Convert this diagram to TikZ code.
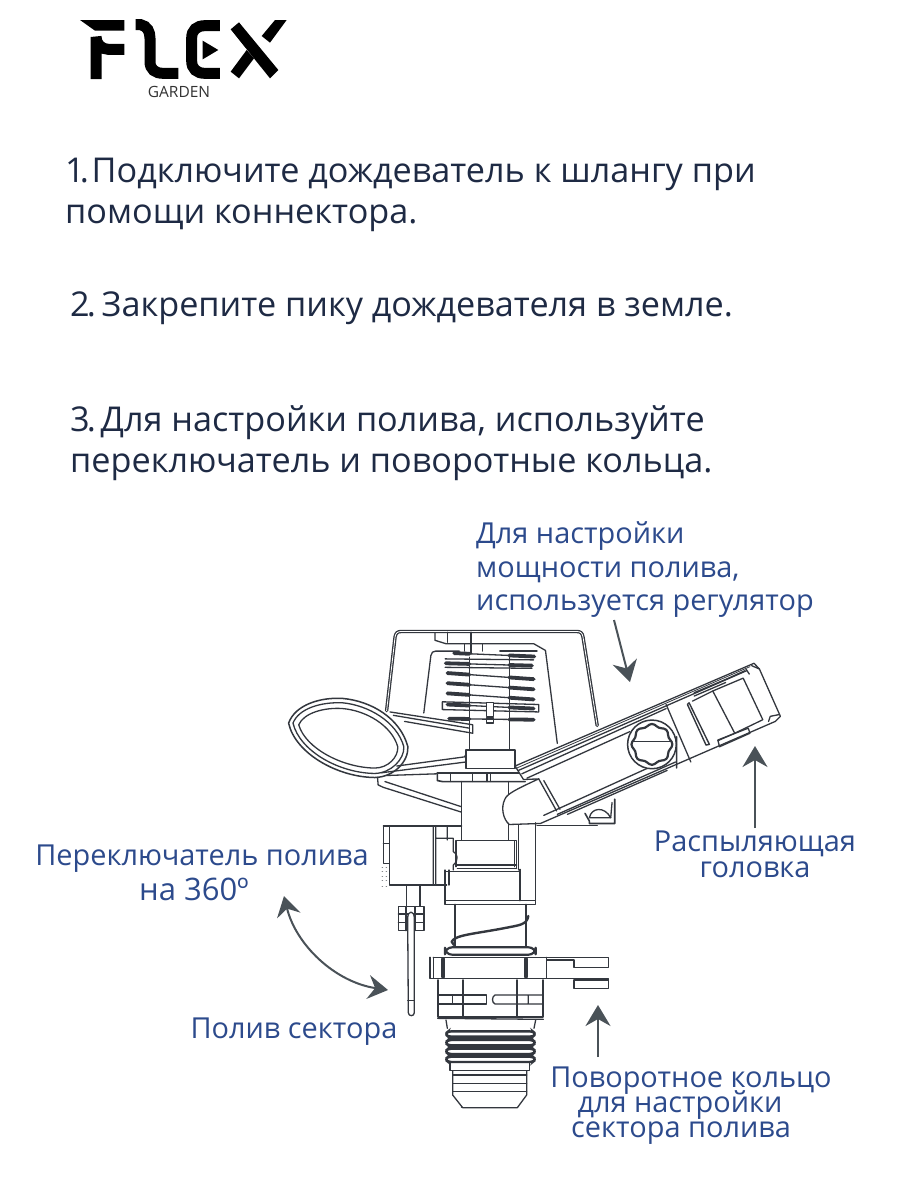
\documentclass[tikz,border=0pt]{standalone}
\usepackage{fontspec}
\setmainfont{Open Sans}
\usetikzlibrary{arrows.meta}
\definecolor{navy}{HTML}{1E2A44}
\definecolor{lblue}{HTML}{2C4A8C}
\definecolor{lc}{HTML}{33373E}
\definecolor{arrc}{HTML}{4A5258}
\tikzset{
 maintext/.style={anchor=base west,inner sep=0,text=navy,font=\fontsize{34.2}{34.2}\selectfont},
 lab/.style={anchor=base,inner sep=0,text=lblue,font=\fontsize{28.9}{28.9}\selectfont},
 ln/.style={draw=lc,line width=1.3pt,line join=round,line cap=round},
 thn/.style={draw=lc,line width=.8pt,line join=round,line cap=round},
 thk/.style={draw=lc,line width=2.2pt,line cap=round,line join=round},
 coil/.style={draw=lc,line width=3.8pt,line cap=round},
 logo/.style={draw=black,line width=11pt,line cap=butt,line join=miter},
 callout/.style={draw=arrc,line width=2pt,-{Stealth[length=21pt,width=25pt,inset=7pt]}},
 twoway/.style={draw=arrc,line width=2pt,{Stealth[length=20pt,width=24pt,inset=7pt]}-{Stealth[length=20pt,width=24pt,inset=7pt]}},
}
\begin{document}
\begin{tikzpicture}[x=1pt,y=-1pt]
\useasboundingbox[fill=white] (0,0) rectangle (900,1200);
%---- logo
\begin{scope}[xshift=70pt,yshift=-10pt,x=.33333pt,y=-.33333pt]
 \fill (30,30)--(163,30)--(163,62)--(75,62)--cycle;
 \draw[logo] (163,118)--(115,118) arc[start angle=90,end angle=180,radius=37] --(78,207);
 \draw[logo] (197,44)--(212,44) .. controls (232,48) and (240,65) .. (240,85)--(240,155) .. controls (240,178) and (255,190) .. (280,190)--(325,190);
 \draw[logo] (450,47)--(405,47) .. controls (380,47) and (365,60) .. (365,85)--(365,152) .. controls (365,177) and (380,190) .. (405,190)--(450,190);
 \fill (398,92)--(445,120)--(398,148)--cycle;
 \fill (482,58)--(507,37)--(625,180)--(600,205)--cycle;
 \fill (615,30)--(650,30)--(600,98)--(575,78)--cycle;
 \fill (530,120)--(552,145)--(507,205)--(482,185)--cycle;
\end{scope}
\node[anchor=base,inner sep=0,text=black!80,font=\fontsize{15.5}{15.5}\selectfont] (garden) at (179,97) {GARDEN};
%---- main text
\node[maintext] (t1) at (65,182) {1\kern-5pt.\kern-9pt{} Подключите дождеватель к шлангу при};
\node[maintext] (t1b) at (65,223) {помощи коннектора.};
\node[maintext] (t2) at (70,316) {2\kern-3pt.\kern-6pt{} Закрепите пику дождевателя в земле.};
\node[maintext] (t3) at (70,431) {3\kern-3pt.\kern-7pt{} Для настройки полива, используйте};
\node[maintext] (t3b) at (70,472) {переключатель и поворотные кольца.};
%---- labels
\node[lab,anchor=base west] (a1) at (476,543) {Для настройки};
\node[lab,anchor=base west] (a2) at (476,577) {мощности полива,};
\node[lab,anchor=base west] (a3) at (476,610) {используется регулятор};
\node[lab] (b1) at (755,851) {Распыляющая};
\node[lab] (b2) at (755,877) {головка};
\node[lab] (c1) at (202,865) {Переключатель полива};
\node[lab,font=\fontsize{31}{31}\selectfont] (c2) at (194,900) {на 360º};
\node[lab] (d1) at (294,1038) {Полив сектора};
\node[lab] (e1) at (691,1087) {Поворотное кольцо};
\node[lab] (e2) at (680,1112) {для настройки};
\node[lab] (e3) at (681,1137) {сектора полива};
%---- callout arrows
\coordinate (p1s) at (614,620); \coordinate (p1e) at (630,682);
\coordinate (p2s) at (755,828); \coordinate (p2e) at (755,746);
\coordinate (p3s) at (598,1057); \coordinate (p3e) at (598,1005);
\coordinate (p4s) at (284,896); \coordinate (p4e) at (388,990);
\draw[callout] (p1s)--(p1e);
\draw[callout] (p2s)--(p2e);
\draw[callout] (p3s)--(p3e);
\draw[twoway] (p4s) .. controls (296,945) and (335,982) .. (p4e);
%---- upper sprinkler
\begin{scope}[xshift=270pt,yshift=-620pt,x=.338pt,y=-.338pt]
 % cap
 \draw[ln,double=white,double distance=.8pt] (345,268)--(370,50) .. controls (372,38) and (378,34) .. (388,34)--(908,34) .. controls (918,34) and (924,38) .. (926,50)--(968,312);
 \draw[ln] (488,38)--(488,60)--(520,70)--(780,70)--(815,90)--(850,365);
 \draw[ln] (455,275)--(476,105) .. controls (478,96) and (482,92) .. (490,92)--(560,92);
 \draw[ln] (525,36)--(525,66) (595,36)--(595,100) (575,70)--(575,92) (628,70)--(628,92) (680,92)--(790,92);
 \draw[ln] (590,110)--(590,385) (708,110)--(708,385);
 % spring: thin across the centre column, heavy either side of it
 \foreach \a/\b/\c/\d in {545/98/782/108, 520/128/775/135, 525/157/780/175, 525/187/780/205, 525/217/780/235, 525/250/780/262, 530/292/780/295}{
   \pgfmathsetmacro{\yl}{\b+(\d-\b)*(590-\a)/(\c-\a)}
   \pgfmathsetmacro{\yr}{\b+(\d-\b)*(708-\a)/(\c-\a)}
   \draw[ln] (\a,\b)--(\c,\d);
   \draw[coil] (\a,\b)--(590,\yl) (708,\yr)--(\c,\d);}
 \draw[ln] (518,115)--(780,118) (518,140)--(775,143);
 \draw[ln] (510,242)--(795,250)--(795,272)--(510,265)--cycle;
 \draw[ln,fill=white] (640,245) rectangle (662,285);
 \draw[ln] (640,290) rectangle (662,305);
 % handle
 \draw[ln,line width=1.5pt,fill=white] (55,305) .. controls (75,250) and (150,228) .. (215,232) .. controls (300,240) and (385,290) .. (408,375) .. controls (410,420) and (365,465) .. (310,466) .. controls (200,465) and (75,395) .. (55,305) -- cycle;
 \draw[ln] (68,305) .. controls (85,262) and (150,242) .. (215,245) .. controls (290,252) and (375,300) .. (396,375) .. controls (398,412) and (358,453) .. (310,454) .. controls (205,453) and (88,388) .. (68,305) -- cycle;
 \draw[ln] (85,310) .. controls (100,275) and (160,258) .. (215,262) .. controls (285,268) and (360,312) .. (378,375) .. controls (380,405) and (350,438) .. (310,438) .. controls (215,437) and (105,380) .. (85,310) -- cycle;
 % arms
 \draw[ln] (355,272)--(525,298)--(600,310)--(600,335)--(398,300);
 \draw[ln] (365,282)--(590,320);
 \draw[ln] (375,432)--(575,405)--(585,392);
 \draw[ln] (330,452)--(580,420);
 \draw[ln] (345,460)--(495,455);
 \draw[ln,fill=white] (580,385) rectangle (725,440);
 % flange
 \draw[thk,line width=1.5pt] (495,452)--(755,452);
 \draw[thk,line width=1.6pt] (495,452)--(495,475)--(510,478)--(755,478);
 \draw[ln] (535,452)--(535,478) (600,452)--(600,478) (642,452)--(642,478) (653,452)--(653,478);
 % bracket
 \draw[thk,line width=1.3pt] (318,465)--(320,488)--(335,495)--(565,568);
 \draw[ln] (340,478)--(565,552);
 % stem
 \draw[ln] (567,478)--(567,640) (705,478)--(705,525);
 % knob under arm
 \draw[thk,line width=1.6pt] (932,572)--(945,595)--(945,602)--(1020,602)--(1020,530);
 \draw[ln] (945,585) .. controls (950,555) and (990,550) .. (1008,585)--cycle;
 \draw[ln] (1008,585)--(1012,540);
 \draw[ln] (790,608)--(968,608);
 % main arm
 \draw[ln,fill=white] (725,432)--(1432,128)--(1448,145)--(1510,285)--(1495,300)--(800,602)--(708,605) .. controls (690,590) and (682,555) .. (695,530) .. controls (700,515) and (730,500) .. (795,470)--(750,472)--(725,432);
 \draw[ln] (735,445)--(1410,150) (745,455)--(1172,262);
 \draw[thn] (730,438)--(1420,138);
 \draw[ln] (760,468)--(1065,330);
 \draw[ln] (810,578)--(1140,428)  (850,575)--(1200,420) (880,575)--(1175,445) (1425,135)--(1448,145);
 \draw[ln] (795,470)--(848,565);
 \draw[ln] (810,475)--(858,560);
 \draw[ln] (1172,250)--(1245,420) (1203,345)--(1203,438);
 % regulator
 \draw[ln,line width=1.5pt,fill=white] (1130,368) circle[radius=72];
 \draw[thk,fill=white] plot[smooth cycle,samples=48,domain=0:352.5] ({1130+(57+3.5*cos(8*\x))*cos(\x)},{368+(57+3.5*cos(8*\x))*sin(\x)});
 \draw[ln] (1074,360)--(1186,360);
 % head
 \draw[thk,line width=1.4pt] (1240,245)--(1300,368)--(1290,370)--(1235,250)--cycle;
 \draw[ln] (1250,240)--(1310,210)--(1375,335)--(1325,357);
 \draw[ln] (1310,210)--(1400,172)--(1458,295)--(1375,335);
 \draw[ln] (1255,215)--(1350,175) (1350,175)--(1405,150);
 \draw[ln] (1325,355)--(1415,320)--(1420,335)--(1330,375)--cycle;
 \draw[ln] (1408,145)--(1418,160) (1475,300)--(1480,285)--(1505,280);
 \draw[ln] (1255,225)--(1348,185);
\end{scope}
%---- lower sprinkler
\begin{scope}[xshift=370pt,yshift=-810pt,x=.33333pt,y=-.33333pt]
 % switch box
 \draw[ln] (40,48)--(275,48) (40,48)--(40,160)--(58,160) (40,100)--(58,100) (58,50)--(58,225)--(230,225);
 \draw[ln] (190,50)--(190,225) (197,50)--(197,225) (232,50)--(232,90) (197,85)--(250,85)--(250,125) .. controls (262,130) and (268,150) .. (250,165)--(250,180);
 \foreach \y in {172,185,198,212,228}{\draw[thn,lc!60] (36,\y)--(38,\y) (48,\y)--(50,\y);}
 % stem lower part and neck
 \draw[ln] (275,0)--(275,90) (415,42)--(415,90);
 \draw[thk,line width=1.5pt] (258,92)--(440,92)--(440,175);
 \draw[ln] (258,92)--(258,170) (262,165)--(440,165) (262,175)--(440,175) (433,92)--(433,170);
 \draw[ln] (445,45)--(445,180) (497,38)--(497,272);
 \draw[ln] (225,180)--(225,272) (450,178)--(450,272) (237,180)--(237,225);
 \draw[ln] (225,185)--(450,185);
 \draw[thk,line width=1.6pt] (225,272)--(497,272)--(497,283)--(225,283)--cycle;
 % tube
 \draw[ln] (255,283)--(255,410) (468,283)--(468,410);
 \draw[thk,line width=2.4pt] (252,405)--(245,395) .. controls (255,375) and (310,372) .. (400,355) .. controls (450,345) and (470,345) .. (475,318);
 % ring
 \draw[thk,line width=2.2pt,rounded corners=7pt] (225,412) rectangle (497,434);
 \draw[ln] (248,436)--(350,436) (368,436)--(475,436);
 % plate
 \draw[thk,line width=1.5pt] (190,442)--(715,442)--(715,472)--(612,472)--(612,450)--(532,450);
 \draw[thk,line width=1.5pt] (180,442)--(180,505)--(715,505)--(715,535)--(612,535)--(612,510);
 \draw[ln] (190,442)--(190,505) (530,442)--(530,505) (612,510)--(715,510);
 \draw[coil] (220,447)--(220,500) (468,447)--(468,500);
 % body
 \draw[thk,line width=1.7pt] (203,510)--(203,622)--(520,622)--(520,510);
 \draw[ln] (203,625)--(520,628);
 \draw[thk,line width=1.8pt] (280,510)--(280,622) (440,510)--(440,622);
 \draw[ln] (205,555)--(350,555)--(350,582)--(205,582) (248,555)--(248,582);
 \draw[ln] (515,555)--(375,555) .. controls (365,560) and (365,578) .. (375,582)--(515,582) (475,555)--(475,582);
 % thread
 \draw[ln] (228,630)--(232,655) (497,630)--(492,655);
 \foreach \y in {672,698,724,748}{\draw[draw=lc,line width=2.4pt,rounded corners=3pt] (225,\y) -- (235,\y-8) -- (488,\y-8) -- (498,\y) -- (488,\y+8) -- (235,\y+8) -- cycle;}
 \foreach \y in {685,711,736}{\draw[coil,line width=2pt] (235,\y)--(488,\y);}
 % nozzle
 \draw[ln] (240,760)--(240,782)--(478,782)--(478,760);
 \draw[ln] (248,782)--(248,855)--(278,893)--(442,893)--(470,855)--(470,782);
 \draw[thk,line width=1.4pt] (275,893)--(442,893);
 \draw[ln] (248,795)--(470,795) (248,820)--(470,820) (248,845)--(470,845);
 % rod
 \draw[ln] (110,228)--(110,290) (150,228)--(150,290);
 \draw[thk,line width=1.5pt,fill=white] (85,290) rectangle (162,362);
 \draw[ln] (85,312)--(162,312) (85,337)--(162,337) (108,290)--(108,362) (135,290)--(135,362);
 \draw[ln,fill=white] (113,325) .. controls (113,300) and (133,300) .. (133,325)--(133,608) .. controls (133,620) and (115,620) .. (115,608)--cycle;
 \draw[ln] (113,572)--(133,572);
\end{scope}
\end{tikzpicture}
\end{document}
